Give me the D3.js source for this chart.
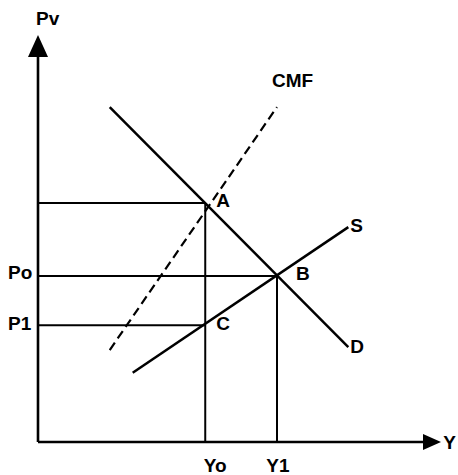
<!DOCTYPE html>
<html>
<head>
<meta charset="utf-8">
<script src="https://cdn.jsdelivr.net/npm/d3@7"></script>
<style>
body { margin: 0; background: #fff; }
text { font-family: "Liberation Sans", Arial, sans-serif; font-weight: bold; font-size: 19px; fill: #000; }
</style>
</head>
<body>
<div id="chart"></div>
<script>
// quantities (abstract units 0..10)
var levels = {Yo: 4.15, Y1: 5.93};
var prices = {PA: 5.87, Po: 4.08, P1: 2.87};

var demand = [[1.78, 8.23], [7.70, 2.33]];
var supply = [[2.35, 1.70], [7.70, 5.28]];
var cmf = [[1.78, 2.26], [5.93, 8.23]];

var width = 458, height = 475;

var x = d3.scaleLinear().domain([0, 10]).range([38, 441]);
var y = d3.scaleLinear().domain([0, 10]).range([442, 35]);

var svg = d3.select("#chart")
    .append("svg")
    .attr("width", width)
    .attr("height", height);

var line = d3.line()
    .x(function(d) { return x(d[0]); })
    .y(function(d) { return y(d[1]); });

// axes with arrow heads
svg.append("line")
    .attr("x1", x(0)).attr("y1", y(0))
    .attr("x2", x(0)).attr("y2", y(9.5))
    .attr("stroke", "#000").attr("stroke-width", 2.6);
svg.append("path")
    .attr("d", "M" + x(0) + "," + y(10) + "L" + (x(0) - 10) + "," + (y(10) + 22) + "L" + (x(0) + 10) + "," + (y(10) + 22) + "Z")
    .attr("fill", "#000");

svg.append("line")
    .attr("x1", x(0)).attr("y1", y(0))
    .attr("x2", x(9.6)).attr("y2", y(0))
    .attr("stroke", "#000").attr("stroke-width", 2.6);
svg.append("path")
    .attr("d", "M" + x(10) + "," + y(0) + "L" + (x(10) - 18) + "," + (y(0) - 8) + "L" + (x(10) - 18) + "," + (y(0) + 8) + "Z")
    .attr("fill", "#000");

// guide lines
var guides = [
    [[0, prices.PA], [levels.Yo, prices.PA]],
    [[0, prices.Po], [levels.Y1, prices.Po]],
    [[0, prices.P1], [levels.Yo, prices.P1]],
    [[levels.Yo, 0], [levels.Yo, prices.PA]],
    [[levels.Y1, 0], [levels.Y1, prices.Po]]
];
svg.selectAll(".guide")
    .data(guides)
    .enter()
    .append("path")
    .attr("class", "guide")
    .attr("d", line)
    .attr("fill", "none")
    .attr("stroke", "#000")
    .attr("stroke-width", 2);

// curves
svg.append("path").attr("d", line(demand))
    .attr("fill", "none").attr("stroke", "#000").attr("stroke-width", 2.5);
svg.append("path").attr("d", line(supply))
    .attr("fill", "none").attr("stroke", "#000").attr("stroke-width", 2.5);
svg.append("path").attr("d", line(cmf))
    .attr("fill", "none").attr("stroke", "#000").attr("stroke-width", 2.2)
    .attr("stroke-dasharray", "9,5");

// labels
function label(t, px, py, anchor) {
    svg.append("text")
        .attr("x", px).attr("y", py)
        .attr("text-anchor", anchor || "start")
        .text(t);
}
label("Pv", x(0) - 2, 25);
label("Y", 456, y(0) + 7, "end");
label("Yo", x(levels.Yo) + 10, 472, "middle");
label("Y1", x(levels.Y1) + 1, 472, "middle");
label("Po", 8, y(prices.Po) + 3);
label("P1", 8, y(prices.P1) + 5);
label("A", x(levels.Yo) + 11, y(prices.PA) + 4);
label("B", x(levels.Y1) + 19, y(prices.Po) + 4);
label("C", x(levels.Yo) + 11, y(prices.P1) + 5);
label("S", x(supply[1][0]) + 2, y(supply[1][1]) + 5);
label("D", x(demand[1][0]) + 2, y(demand[1][1]) + 6);
label("CMF", x(cmf[1][0]) - 5, 87);
</script>
</body>
</html>
